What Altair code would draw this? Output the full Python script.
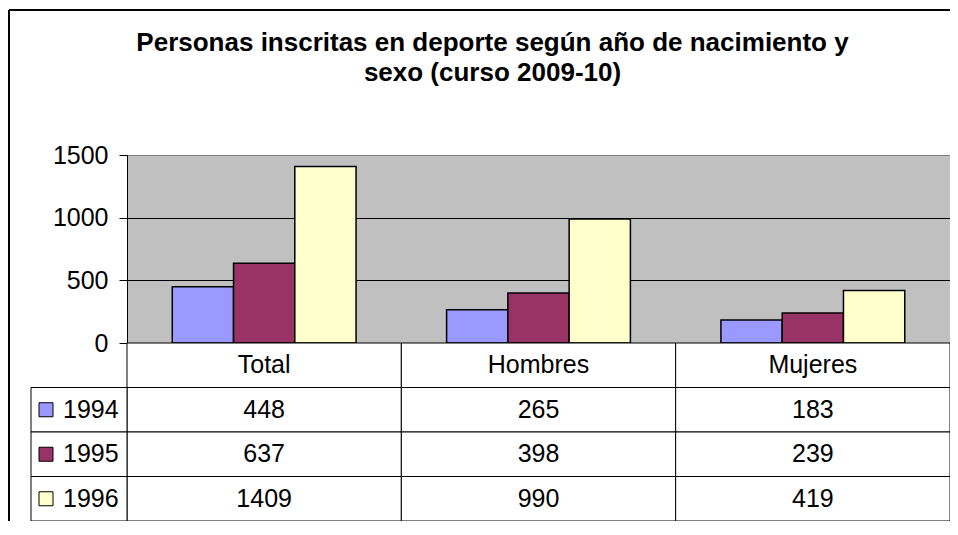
import altair as alt
import pandas as pd

categories = ["Total", "Hombres", "Mujeres"]
years = ["1994", "1995", "1996"]
values_1994 = [448, 265, 183]
values_1995 = [637, 398, 239]
values_1996 = [1409, 990, 419]
colors = ["#9999FF", "#993366", "#FFFFCC"]
y_ticks = [0, 500, 1000, 1500]
title_lines = ["Personas inscritas en deporte según año de nacimiento y",
               "sexo (curso 2009-10)"]

FONT = "Liberation Sans, Arial, sans-serif"
FS = 25
W, H = 823, 366
BAR_H = 188
rows = [""] + years

series = {"1994": values_1994, "1995": values_1995, "1996": values_1996}
long = pd.DataFrame([
    {"category": c, "year": y, "value": series[y][i]}
    for y in years for i, c in enumerate(categories)
])
header = pd.DataFrame({"category": categories, "row": [""] * len(categories)})
yrs = pd.DataFrame({"year": years})

color_scale = alt.Scale(domain=years, range=colors)
tx = alt.X("category:N", scale=alt.Scale(domain=categories, paddingInner=0, paddingOuter=0), axis=None)
ty_row = alt.Y("row:N", scale=alt.Scale(domain=rows, range=[BAR_H, H], paddingInner=0, paddingOuter=0), axis=None)
ty_year = alt.Y("year:N", scale=alt.Scale(domain=rows, range=[BAR_H, H], paddingInner=0, paddingOuter=0), axis=None)

bars = alt.Chart(long).mark_bar(stroke="black", strokeWidth=1.5).encode(
    x=alt.X("category:N", scale=alt.Scale(domain=categories, paddingInner=0.33, paddingOuter=0.165), axis=None),
    xOffset=alt.XOffset("year:N", scale=alt.Scale(domain=years, paddingInner=0, paddingOuter=0)),
    y=alt.Y("value:Q", scale=alt.Scale(domain=[0, 1500], range=[BAR_H, 0], nice=False, zero=True),
            axis=alt.Axis(values=y_ticks, format="d", title=None, labelFontSize=FS, labelFont=FONT,
                          labelColor="black", tickColor="black", tickSize=8, labelPadding=11,
                          domainColor="black", grid=True,
                          gridColor=alt.condition("datum.value >= 1500", alt.value("#808080"), alt.value("black")),
                          gridWidth=1)),
    color=alt.Color("year:N", scale=color_scale, legend=None),
)

header_cells = alt.Chart(header).mark_rect(fill="white", stroke="black", strokeWidth=1).encode(x=tx, y=ty_row)
data_cells = alt.Chart(long).mark_rect(fill="white", stroke="black", strokeWidth=1).encode(x=tx, y=ty_year)
left_cells = alt.Chart(yrs).mark_rect(fill="white", stroke="black", strokeWidth=1).encode(
    x=alt.value(-96), x2=alt.value(0), y=ty_year)

header_text = alt.Chart(header).mark_text(font=FONT, fontSize=FS, color="black", baseline="middle").encode(
    x=tx, y=ty_row, text="category:N")
value_text = alt.Chart(long).mark_text(font=FONT, fontSize=FS, color="black", baseline="middle").encode(
    x=tx, y=ty_year, text="value:Q")
legend_sq = alt.Chart(yrs).mark_square(size=196, stroke="black", strokeWidth=1, opacity=1).encode(
    x=alt.value(-81), y=ty_year, color=alt.Color("year:N", scale=color_scale, legend=None))
year_text = alt.Chart(yrs).mark_text(font=FONT, fontSize=FS, color="black", baseline="middle", align="left").encode(
    x=alt.value(-64), y=ty_year, text="year:N")

frame_left = alt.Chart(yrs).mark_rule(color="black", strokeWidth=1.5).encode(
    x=alt.value(-118), y=alt.value(-145), y2=alt.value(H + 20))
frame_top = alt.Chart(yrs).mark_rule(color="black", strokeWidth=1.5).encode(
    x=alt.value(-118), x2=alt.value(W + 20), y=alt.value(-145))

chart = alt.layer(
    bars, header_cells, data_cells, left_cells, header_text, value_text,
    legend_sq, year_text, frame_left, frame_top
).resolve_scale(x="independent", y="independent").properties(
    width=W, height=H,
    title=alt.TitleParams(title_lines, fontSize=26, fontWeight="bold", font=FONT, color="black",
                          anchor="middle", dx=-46, dy=77, lineHeight=30, offset=0),
    autosize=alt.AutoSizeParams(type="none"),
    padding={"left": 119, "top": 147, "right": 0, "bottom": 0},
    background="white",
).configure_view(fill="#C0C0C0", stroke="#808080", strokeWidth=1)

chart.save("out.html", embed_options={"renderer": "svg", "actions": False})
